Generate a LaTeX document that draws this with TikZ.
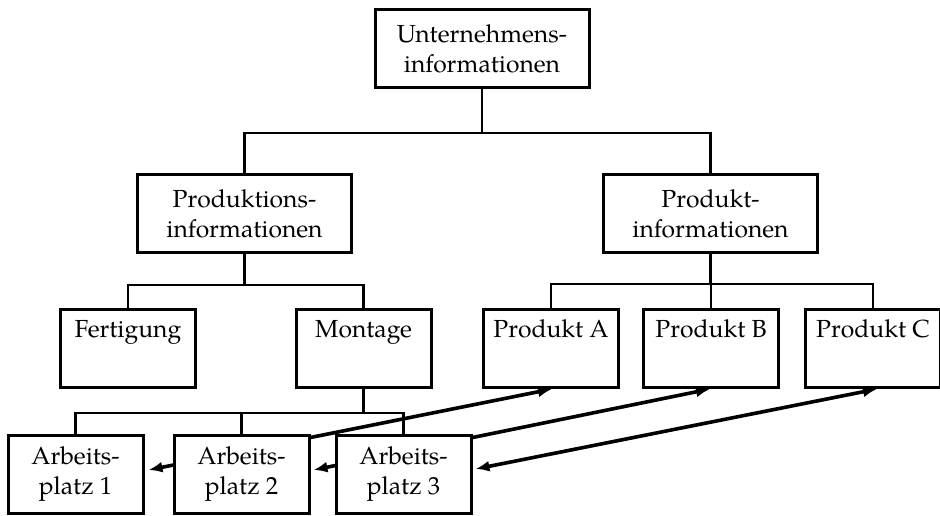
\documentclass[tikz,border=0pt]{standalone}
\usepackage{fontspec}
\setmainfont{TeX Gyre Pagella}
\usetikzlibrary{arrows.meta,calc}
\pgfdeclarelayer{back}
\pgfsetlayers{back,main}
\begin{document}
\begin{tikzpicture}[x=1pt,y=-1pt,
  box/.style={draw, line width=3pt, fill=white, minimum height=78pt,
    align=center, inner sep=0pt,
    font=\fontsize{24.7}{30}\selectfont},
  wide/.style={box, minimum width=214pt},
  small/.style={box, minimum width=135pt},
  tree/.style={line width=2.7pt},
  link/.style={line width=3.6pt,
    {Latex[length=14pt,width=11pt]}-{Latex[length=14pt,width=11pt]}}
]
\useasboundingbox (0,0) rectangle (940,515);

% hierarchy boxes
\node[wide]  (top) at (482,48.5)    {Unternehmens-\\informationen};
\node[wide]  (pi)  at (244.5,213.5) {Produktions-\\informationen};
\node[wide]  (pr)  at (710.5,213.5) {Produkt-\\informationen};
\node[small] (fe)  at (128,348.5)   {Fertigung\\\strut};
\node[small] (mo)  at (363.5,348.5) {Montage\\\strut};
\node[small] (pa)  at (551,348.5)   {Produkt A\\\strut};
\node[small] (pb)  at (711,348.5)   {Produkt B\\\strut};
\node[small] (pc)  at (873,348.5)   {Produkt C\\\strut};
\node[small] (ap1) at (75.5,474)    {Arbeits-\\platz 1};
\node[small] (ap2) at (241.5,474)   {Arbeits-\\platz 2};
\node[small] (ap3) at (403.5,474)   {Arbeits-\\platz 3};

% junction points of the tree
\coordinate (j0) at ($(top.south)+(0,44)$);
\coordinate (j1) at ($(pi.south)+(0,31)$);
\coordinate (j2) at ($(pr.south)+(0,30)$);
\coordinate (j3) at ($(mo.south)+(0,24)$);

% tree connectors
\draw[tree] (top.south) -- (j0);
\draw[tree] (pi.north) |- (j0) -| (pr.north);
\draw[tree] (pi.south) -- (j1);
\draw[tree] (fe.north) |- (j1) -| (mo.north);
\draw[tree] (pr.south) -- (j2);
\draw[tree] (pa.north) |- (j2) -| (pc.north);
\draw[tree] (pb.north) -- (pb.north |- j2);
\draw[tree] (mo.south) -- (j3);
\draw[tree] (ap1.north) |- (ap3.north |- j3) -- (ap3.north);
\draw[tree] (ap2.north) -- (ap2.north |- j3);

% product links, running behind the workplace boxes
\begin{pgfonlayer}{back}
\draw[link] ($(ap1.east)+(4,-4)$) -- ($(pa.south)+(1,0)$);
\draw[link] ($(ap2.east)+(3,-4)$) -- ($(pb.south)+(-1,0)$);
\draw[link] ($(ap3.east)+(3,-5)$) -- ($(pc.south)+(4,0)$);
\end{pgfonlayer}
\end{tikzpicture}
\end{document}
